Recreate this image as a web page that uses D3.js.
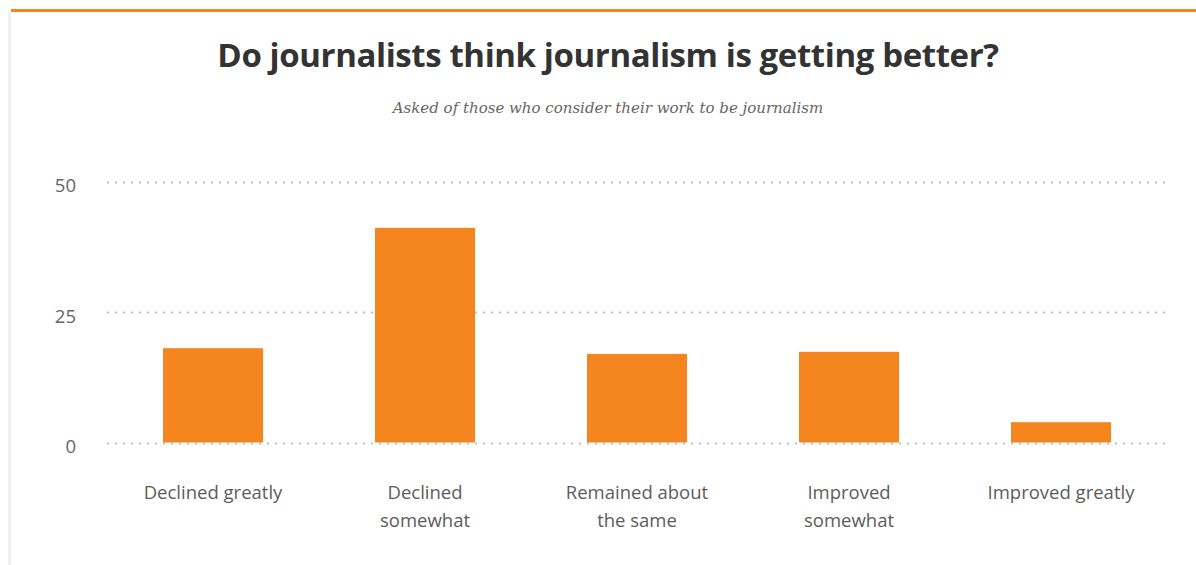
<!DOCTYPE html>
<html>
<head>
<meta charset="utf-8">
<script src="https://cdn.jsdelivr.net/npm/d3@7"></script>
<style>
  html, body { margin: 0; padding: 0; background: #fff; }
  svg { display: block; }
</style>
</head>
<body>
<svg id="chart" width="1196" height="565"></svg>
<script>
// Share of journalists by how they think journalism has changed
const categories = [
  ["Declined greatly"],
  ["Declined", "somewhat"],
  ["Remained about", "the same"],
  ["Improved", "somewhat"],
  ["Improved greatly"]
];
const values = [18.1, 41.2, 17.0, 17.4, 3.9];
const yTicks = [0, 25, 50];

const title = "Do journalists think journalism is getting better?";
const subtitle = "Asked of those who consider their work to be journalism";

const W = 1196, H = 565;
const orange = "#f5861f";
const sans = "'Open Sans', 'Noto Sans', sans-serif";

const svg = d3.select("#chart");

// frame: orange top rule and light left edge
svg.append("rect").attr("x", 11).attr("y", 9).attr("width", W - 11).attr("height", 3).attr("fill", orange);
svg.append("rect").attr("x", 8).attr("y", 12).attr("width", 3).attr("height", H - 12).attr("fill", "#efefef");

svg.append("text")
  .attr("x", 608).attr("y", 67)
  .attr("text-anchor", "middle")
  .attr("font-family", sans)
  .attr("font-weight", 700)
  .attr("font-size", 33)
  .attr("letter-spacing", -0.4)
  .attr("fill", "#333")
  .text(title);

svg.append("text")
  .attr("x", 608).attr("y", 113)
  .attr("text-anchor", "middle")
  .attr("font-family", "'DejaVu Serif', serif")
  .attr("font-style", "italic")
  .attr("font-size", 15)
  .attr("fill", "#666")
  .text(subtitle);

const x = d3.scaleBand()
  .domain(d3.range(categories.length))
  .range([107, 1167])
  .paddingInner(0.528)
  .paddingOuter(0.264);

const y = d3.scaleLinear().domain([0, 50]).range([442.5, 182]);

// dotted gridlines
const grid = svg.append("g");
grid.selectAll("line").data(yTicks).join("line")
  .attr("x1", 107).attr("x2", 1167)
  .attr("y1", d => Math.round(y(d)) + 0.5).attr("y2", d => Math.round(y(d)) + 0.5)
  .attr("stroke", "#bdbdbd")
  .attr("stroke-width", 2)
  .attr("stroke-dasharray", "2,6");

// y axis labels
const yAxis = d3.axisLeft(y).tickValues(yTicks).tickSize(0).tickPadding(0);
const yg = svg.append("g").attr("transform", "translate(76,0)").call(yAxis);
yg.select(".domain").remove();
yg.selectAll("text")
  .attr("font-family", sans)
  .attr("font-size", 18.5)
  .attr("fill", "#666")
  .attr("dy", "0.53em");

// bars
svg.append("g").selectAll("rect").data(values).join("rect")
  .attr("x", (d, i) => x(i))
  .attr("width", x.bandwidth())
  .attr("y", d => y(d))
  .attr("height", d => y(0) - y(d))
  .attr("fill", orange);

// category labels
const xl = svg.append("g").selectAll("text").data(categories).join("text")
  .attr("x", (d, i) => x(i) + x.bandwidth() / 2)
  .attr("y", 499)
  .attr("text-anchor", "middle")
  .attr("font-family", sans)
  .attr("font-size", 18.5)
  .attr("fill", "#5c5c5c");
xl.selectAll("tspan").data(d => d).join("tspan")
  .attr("x", function() { return this.parentNode.getAttribute("x"); })
  .attr("dy", (d, i) => i === 0 ? 0 : 28)
  .text(d => d);
</script>
</body>
</html>
